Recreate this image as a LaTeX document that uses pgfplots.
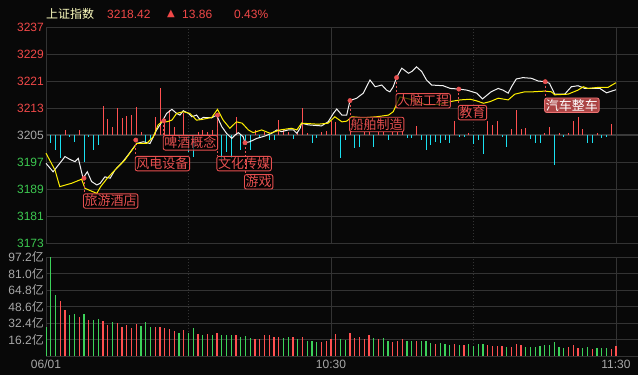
\documentclass[border=0pt]{standalone}
\usepackage{pgfplots}
\pgfplotsset{compat=1.18}
\usepackage{fontspec}
\setmainfont{Liberation Sans}
\newfontfamily\cjk{Noto Sans CJK SC}
\newfontfamily\dejavu{DejaVu Sans}
\definecolor{bg}{HTML}{080808}
\definecolor{gridc}{HTML}{333333}
\definecolor{basec}{HTML}{3A3A3A}
\definecolor{dotc}{HTML}{555555}
\definecolor{upred}{HTML}{FF5050}
\definecolor{dngreen}{HTML}{3CD25A}
\definecolor{cyanbar}{HTML}{1AE0F0}
\definecolor{txtred}{HTML}{F04848}
\definecolor{txtgreen}{HTML}{3CC850}
\definecolor{txtgray}{HTML}{A8A8A8}
\definecolor{titley}{HTML}{FFFFC0}
\definecolor{labred}{HTML}{E85050}
\definecolor{linew}{HTML}{F2F2F2}
\definecolor{liney}{HTML}{FFF000}
\definecolor{selfill}{HTML}{B44848}
\tikzset{lab/.style={solid, draw=labred, line width=0.9bp, rounded corners=2bp, fill=black, fill opacity=0.7, text opacity=1, text=labred, font=\cjk\fontsize{13bp}{13bp}\selectfont, inner xsep=1.2bp, inner ysep=1.2bp, anchor=north west, xshift=-1bp}}
\tikzset{conn/.style={labred, line width=1bp, dash pattern=on 2bp off 2bp}}
\pgfplotsset{panel/.style={anchor=south west, scale only axis, width=592bp, xmin=0, xmax=124.63}}
\begin{document}
\begin{tikzpicture}
\fill[bg] (0,0) rectangle (638bp,375bp);
% ---------- price grid and labels ----------
\begin{axis}[panel, at={(46bp,132bp)}, height=216bp,
  ymin=3173, ymax=3237,
  axis line style={draw=none}, major tick length=0pt, tick style={draw=none},
  xtick={0,60,120}, xticklabels={,,},
  extra x ticks={30,90}, extra x tick labels={,},
  extra x tick style={grid style={color=dotc, dash pattern=on 1bp off 2bp, line width=0.8bp}},
  ytick={3173,3181,3189,3197,3205,3213,3221,3229,3237},
  yticklabels={{\color{txtgreen}3173},{\color{txtgreen}3181},{\color{txtgreen}3189},{\color{txtgreen}3197},{\color{txtgray}3205},{\color{txtred}3213},{\color{txtred}3221},{\color{txtred}3229},{\color{txtred}3237}},
  grid=major, major grid style={color=gridc, line width=0.9bp},
  yticklabel style={anchor=east, inner sep=0pt, xshift=-2bp, font=\fontsize{12bp}{12bp}\selectfont},
  /pgf/number format/assume math mode=true]
\draw[basec, line width=2bp] (axis cs:0,3205) -- (axis cs:124.63,3205);
\end{axis}
% ---------- bars around 3205 ----------
\begin{axis}[panel, at={(46bp,132bp)}, height=216bp, ymin=-32, ymax=32, hide axis]
\addplot[ycomb, color=upred, line width=1bp, mark=none] coordinates {
(4,1.5)(7,1.5)(12,8.6)(13,4.6)(14,2.5)(15,7.9)(16,4.9)(17,5.6)(18,5.9)(19,8.4)(20,1.0)
(23,5.2)(24,14.0)(25,4.4)(26,7.4)(27,2.5)(29,6.4)(32,1.0)(33,1.5)(34,1.0)(35,1.5)(36,5.9)
(40,5.2)(44,1.5)(46,1.0)(49,4.4)(50,1.5)(51,1.0)(53,0.5)(54,8.0)(55,0.5)(58,0.8)(59,1.2)
(60,4.0)(61,3.8)(64,2.0)(67,1.0)(68,1.0)(70,1.0)(71,1.0)(73,1.0)(74,1.0)(75,1.0)(78,2.6)
(86,4.0)(89,0.5)(93,4.0)(94,3.0)(95,4.1)(98,1.7)(99,7.4)(100,1.7)(101,2.0)(105,0.5)(106,2.3)
(108,0.5)(110,0.5)(111,4.0)(112,5.4)(113,1.7)(116,0.7)(119,3.3)};
\addplot[ycomb, color=cyanbar, line width=1bp, mark=none] coordinates {
(1,-2.5)(2,-4.4)(3,-6.9)(5,-0.7)(6,-2.0)(8,-7.9)(9,-0.7)(10,-4.4)(11,-3.0)(21,-2.0)(22,-1.5)
(28,-1.5)(30,-4.9)(31,-6.4)(37,-7.9)(38,-4.9)(39,-6.9)(41,-4.4)(42,-2.0)(43,-4.4)(45,-1.0)
(47,-1.5)(48,-1.5)(52,-1.3)(56,-2.5)(57,-1.0)(62,-6.9)(63,-1.5)(65,-4.0)(66,-3.5)(69,-3.7)
(72,-1.5)(76,-1.0)(77,-1.0)(79,-1.5)(80,-4.4)(81,-3.0)(82,-2.0)(83,-2.5)(84,-1.5)(85,-2.3)
(87,-0.5)(88,-0.5)(90,-2.7)(91,-1.5)(92,-5.6)(96,-0.5)(97,-3.5)(102,-1.3)(103,-2.5)(104,-2.5)
(107,-8.8)(109,-0.5)(114,-2.5)(115,-2.5)(117,-1.0)(118,-0.7)};
\end{axis}
% ---------- price and average lines ----------
\begin{axis}[panel, at={(46bp,132bp)}, height=216bp, ymin=3173, ymax=3237, hide axis, clip=false]
\addplot[color=linew, line width=1bp, mark=none] coordinates {
(0,3196.6)(1.5,3194.1)(4.0,3198.6)(5.0,3197.8)(6.1,3197.1)(6.8,3198.1)(7.8,3192.2)(8.7,3194.1)
(9.6,3191.2)(10.7,3190.2)(11.4,3190.7)(12.4,3192.6)(13.5,3192.2)(14.5,3194.6)(15.9,3196.6)
(17.3,3199.1)(19.1,3202.5)(20.5,3203.0)(21.9,3202.5)(23.3,3206.5)(24.4,3208.9)(25.4,3211.4)
(26.5,3212.6)(27.5,3211.4)(28.2,3210.9)(28.9,3212.2)(30.0,3211.4)(30.7,3210.4)(31.7,3210.9)
(32.4,3209.6)(33.1,3210.2)(34.9,3210.1)(35.9,3210.9)(37.0,3207.5)(38.0,3205.5)(39.1,3204.0)
(39.8,3205.0)(40.5,3205.7)(41.5,3204.5)(41.9,3202.7)(42.9,3203.0)(44.4,3204.0)(46.1,3204.7)
(47.5,3205.5)(48.6,3206.5)(49.6,3206.0)(51.0,3206.5)(52.1,3206.5)(52.8,3205.5)(53.5,3207.0)
(53.8,3208.5)(55.2,3208.0)(58.0,3207.7)(59.4,3208.9)(60.5,3211.4)(61.2,3212.7)(62.3,3210.9)
(63.3,3210.9)(64.0,3215.2)(65.4,3215.9)(66.8,3217.4)(68.2,3221.3)(69.3,3219.3)(70.7,3219.8)
(71.7,3218.3)(72.4,3217.8)(73.1,3219.3)(73.8,3222.0)(74.9,3224.8)(76.3,3223.3)(77.0,3223.8)
(78.0,3225.2)(79.1,3223.8)(80.1,3221.3)(81.2,3219.8)(83.6,3219.6)(85.1,3218.8)(87.0,3218.6)
(88.6,3218.3)(90.7,3217.4)(91.9,3215.7)(93.7,3217.8)(95.2,3218.8)(96.2,3218.3)(97.3,3217.4)
(98.0,3219.3)(99.0,3221.6)(100.4,3222.0)(102.2,3221.8)(103.6,3221.0)(105.1,3220.8)(106.0,3220.3)
(107.1,3217.1)(109.2,3217.1)(110.6,3219.3)(112.0,3219.6)(113.4,3218.8)(116.6,3218.8)(118.0,3217.5)
(120,3218.42)};
\addplot[color=liney, line width=1bp, mark=none] coordinates {
(0,3199.6)(1.9,3194.6)(2.9,3189.7)(5.4,3190.7)(7.5,3191.9)(8.2,3189.2)(10.7,3187.7)(11.5,3189.7)
(12.9,3192.2)(14.5,3194.6)(16.6,3197.6)(19.1,3202.5)(21.2,3202.5)(22.6,3204.5)(23.6,3208.0)
(24.7,3209.2)(25.4,3208.9)(26.5,3209.4)(27.5,3211.4)(28.9,3211.9)(30.3,3211.4)(31.7,3209.4)
(32.8,3209.6)(34.9,3210.2)(36.1,3212.6)(37.3,3209.4)(38.7,3207.0)(40.1,3208.9)(41.3,3208.5)
(42.6,3206.5)(43.6,3205.7)(45.4,3206.5)(47.2,3205.5)(49.3,3206.5)(51.7,3207.0)(52.8,3206.5)
(53.8,3208.5)(57.3,3208.2)(59.4,3208.5)(60.8,3210.4)(62.3,3208.9)(63.3,3209.1)(64.4,3210.4)
(66.8,3210.1)(69.6,3210.4)(72.1,3210.9)(73.1,3211.9)(73.8,3214.1)(74.5,3216.3)(77.3,3215.4)
(80.1,3213.9)(82.9,3214.1)(85.1,3214.9)(87.2,3215.4)(89.3,3215.6)(90.7,3215.1)(92.1,3214.4)
(93.5,3214.9)(95.2,3215.9)(97.3,3215.4)(98.7,3217.1)(100.8,3217.8)(102.5,3217.8)(105.0,3218.0)
(106.4,3217.8)(107.1,3216.9)(109.9,3217.1)(112.0,3218.3)(113.1,3219.3)(114.1,3218.8)(116.2,3219.1)
(118.3,3219.1)(120,3220.5)};
% connectors and labels
\draw[conn] (axis cs:8.0,3192.2) -- (axis cs:8.0,3187.7) node[lab]{旅游酒店};
\draw[conn] (axis cs:18.9,3203.5) -- (axis cs:18.9,3198.8) node[lab]{风电设备};
\draw[conn] (axis cs:24.8,3209.2) -- (axis cs:24.8,3205.0) node[lab]{啤酒概念};
\draw[conn] (axis cs:36.1,3210.9) -- (axis cs:36.1,3198.8) node[lab]{文化传媒};
\draw[conn] (axis cs:41.9,3202.7) -- (axis cs:41.9,3193.4) node[lab]{游戏};
\draw[conn] (axis cs:64.0,3215.2) -- (axis cs:64.0,3210.4) node[lab]{船舶制造};
\draw[conn] (axis cs:73.8,3222.0) -- (axis cs:73.8,3217.4) node[lab]{人脑工程};
\draw[conn] (axis cs:86.9,3218.6) -- (axis cs:86.9,3213.9) node[lab]{教育};
\draw[conn] (axis cs:105.1,3220.8) -- (axis cs:105.1,3216.1) node[lab, fill=selfill, fill opacity=0.95, text=white, draw=labred!80!white]{汽车整车};
\addplot[only marks, mark=*, mark size=2.2bp, color=labred] coordinates {
(8.0,3192.2)(18.9,3203.5)(24.8,3209.2)(36.1,3210.9)(41.9,3202.7)(64.0,3215.2)(73.8,3222.0)(86.9,3218.6)(105.1,3220.8)};
\end{axis}
% ---------- volume ----------
\begin{axis}[panel, at={(46bp,19bp)}, height=99bp, ymin=0, ymax=97.2,
  axis line style={draw=none}, major tick length=0pt, tick style={draw=none},
  xtick={0,60,120}, xticklabels={06/01,10:30,11:30},
  extra x ticks={30,90}, extra x tick labels={,},
  extra x tick style={grid style={color=dotc, dash pattern=on 1bp off 2bp, line width=0.8bp}},
  ytick={0,16.2,32.4,48.6,64.8,81,97.2},
  yticklabels={{},{16.2{\cjk 亿}},{32.4{\cjk 亿}},{48.6{\cjk 亿}},{64.8{\cjk 亿}},{81.0{\cjk 亿}},{97.2{\cjk 亿}}},
  grid=major, major grid style={color=gridc, line width=0.9bp},
  yticklabel style={anchor=east, inner sep=0pt, xshift=-2bp, text=txtgray, font=\fontsize{12bp}{12bp}\selectfont},
  xticklabel style={anchor=north, inner sep=0pt, yshift=-4bp, text=txtgray, font=\fontsize{12bp}{12bp}\selectfont},
  /pgf/number format/assume math mode=true]
\addplot[ycomb, color=dngreen, line width=1.1bp, mark=none] coordinates {
(0.1,28.8)(0.9,97.2)(2,59.9)(5,40.3)(6,41.2)(8,41.2)(10,35.3)(11,36.3)(14,33.1)(20,29.5)(21,33.4)(22,28.5)
(28,22.9)(30,22.9)(31,27.5)(33,20.9)(35,20.9)(37,20.9)(38,20.6)(39,20.6)(41,18.9)(42,19.6)(43,17.7)
(50,17.7)(51,18.7)(53,16.7)(55,14.7)(56,14.7)(57,13.7)(62,16.7)(63,15.7)(69,17.7)(71,17.7)(72,14.7)
(76,14.7)(77,14.7)(79,14.7)(80,14.7)(81,12.8)(83,12.8)(84,11.8)(85,10.8)(87,10.8)(89,11.8)(90,10.1)
(91,11.8)(92,11.8)(97,8.8)(101,8.8)(102,8.8)(103,8.8)(104,9.8)(105,10.8)(106,10.8)(107,13.7)(108,8.8)
(109,7.9)(113,7.9)(114,8.8)(116,7.9)(117,7.9)(118,7.9)};
\addplot[ycomb, color=upred, line width=1.1bp, mark=none] coordinates {
(3,54.0)(4,45.2)(7,38.6)(9,35.3)(12,34.4)(13,30.4)(15,32.4)(16,28.8)(17,30.4)(18,27.8)(19,31.4)
(23,28.5)(24,28.5)(25,27.8)(26,26.5)(27,24.5)(29,25.2)(32,21.6)(34,21.6)(36,22.6)(40,20.6)
(44,16.7)(45,16.7)(46,20.6)(47,20.6)(48,18.7)(49,18.7)(52,18.7)(54,18.7)(58,14.1)(59,14.7)(60,16.7)
(61,21.6)(64,22.6)(65,18.0)(66,18.7)(67,16.7)(68,20.6)(70,16.7)(73,13.7)(74,14.7)(75,16.7)(78,14.7)
(82,11.8)(86,11.8)(88,10.8)(93,10.8)(94,9.8)(95,9.8)(96,9.8)(98,8.8)(99,11.8)(100,10.8)(110,8.8)
(111,10.8)(112,7.9)(115,6.9)(119,6.9)(120,9.8)};
\end{axis}
% ---------- title row ----------
\node[anchor=west, inner sep=0pt, text=titley, font=\cjk\fontsize{12bp}{12bp}\selectfont] at (46bp,361bp) {上证指数};
\node[anchor=west, inner sep=0pt, text=txtred, font=\fontsize{12bp}{12bp}\selectfont] at (107bp,361bp) {3218.42};
\node[anchor=west, inner sep=0pt, text=txtred, font=\dejavu\fontsize{10bp}{10bp}\selectfont] at (167bp,361bp) {▲};
\node[anchor=west, inner sep=0pt, text=txtred, font=\fontsize{12bp}{12bp}\selectfont] at (182bp,361bp) {13.86};
\node[anchor=west, inner sep=0pt, text=txtred, font=\fontsize{12bp}{12bp}\selectfont] at (234bp,361bp) {0.43\%};
\pgfresetboundingbox
\useasboundingbox (0,0) rectangle (638bp,375bp);
\end{tikzpicture}
\end{document}
